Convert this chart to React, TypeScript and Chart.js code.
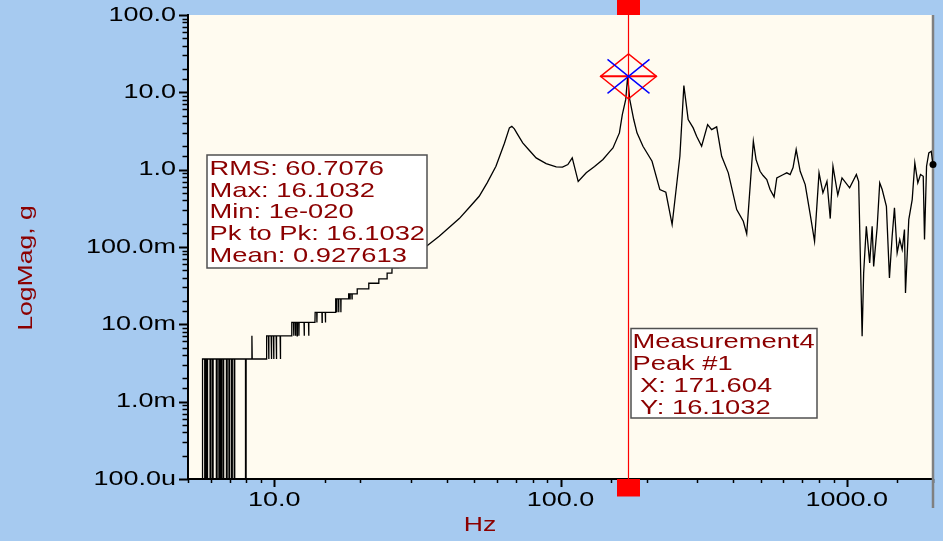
import { useEffect, useRef } from 'react';
import { Chart, registerables } from 'chart.js';

Chart.register(...registerables);

// ---------------- data ----------------
// low-frequency quantised region (1e-20 = empty bin)
const lowFreqHz = [
  5.0, 5.6,
  5.62, 5.72, 5.74, 5.76, 5.81, 5.83, 5.85, 5.97, 5.99, 6.01,
  6.08, 6.10, 6.12, 6.28, 6.30, 6.32, 6.41, 6.43, 6.45,
  6.51, 6.53, 6.55, 6.63, 6.65, 6.67, 6.81, 6.83, 6.85,
  6.95, 6.97, 6.99, 7.10, 7.12, 7.14, 7.25, 7.27, 7.29,
  7.94, 7.96, 7.98, 8.34, 8.36, 8.38,
  9.39, 9.41, 9.55, 9.57, 9.59, 9.76, 9.78, 9.80,
  9.94, 9.96, 9.98, 10.16, 10.18, 10.20, 10.49, 10.51, 10.53,
  11.50, 11.52, 11.68, 11.70, 11.72, 11.85, 11.87, 11.89,
  12.01, 12.03, 12.05, 12.18, 12.20, 12.22, 12.71, 12.73, 12.75,
  13.18, 13.20, 13.22, 13.88, 13.90, 14.08, 14.10, 14.12,
  14.68, 14.70, 14.72, 15.08, 15.10, 15.12,
  16.38, 16.40, 16.53, 16.55, 16.57, 16.78, 16.80, 16.82,
  17.08, 17.10, 17.12, 18.18, 18.20, 18.38, 18.40, 18.42,
  18.68, 18.70, 18.72, 19.48, 19.50, 21.38, 21.40,
  23.18, 23.20, 24.78, 24.80, 25.78, 25.80, 27.3,
];
const lowMagG = [
  1e-20, 1e-20,
  0.00356, 0.00356, 1e-20, 0.00356, 0.00356, 1e-20, 0.00356, 0.00356, 1e-20, 0.00356,
  0.00356, 1e-20, 0.00356, 0.00356, 1e-20, 0.00356, 0.00356, 1e-20, 0.00356,
  0.00356, 1e-20, 0.00356, 0.00356, 1e-20, 0.00356, 0.00356, 1e-20, 0.00356,
  0.00356, 1e-20, 0.00356, 0.00356, 1e-20, 0.00356, 0.00356, 1e-20, 0.00356,
  0.00356, 1e-20, 0.00356, 0.00356, 0.0071, 0.00356,
  0.00356, 0.0071, 0.0071, 0.00356, 0.0071, 0.0071, 0.00356, 0.0071,
  0.0071, 0.00356, 0.0071, 0.0071, 0.00356, 0.0071, 0.0071, 0.00356, 0.0071,
  0.0071, 0.0106, 0.0106, 0.0071, 0.0106, 0.0106, 0.0071, 0.0106,
  0.0106, 0.0071, 0.0106, 0.0106, 0.0071, 0.0106, 0.0106, 0.0071, 0.0106,
  0.0106, 0.0071, 0.0106, 0.0106, 0.0143, 0.0143, 0.0106, 0.0143,
  0.0143, 0.0106, 0.0143, 0.0143, 0.0106, 0.0143,
  0.0143, 0.0213, 0.0213, 0.0143, 0.0213, 0.0213, 0.0143, 0.0213,
  0.0213, 0.0143, 0.0213, 0.0213, 0.0247, 0.0247, 0.0213, 0.0247,
  0.0247, 0.0213, 0.0247, 0.0247, 0.0287, 0.0287, 0.034,
  0.034, 0.0386, 0.0386, 0.046, 0.046, 0.054, 0.054,
];

// resonance region
const midFreqHz = [
  30.6, 34.2, 37.7, 44.3, 48.0, 52.0, 55.5, 59.5, 63.7, 66.3, 67.6, 69.0, 70.9, 73.8,
  77.9, 82.2, 89.1, 96.6, 101.6, 106.1, 109.9, 115.3, 123.0, 131.5, 140.7, 148.5,
  152.5, 160.6, 164.4,
  169.0, 171.604, 174.5, 180.2, 185.0, 194.1, 208.8, 222.3, 233.3, 245.4,
  261.2, 269.7, 279.2, 290.7, 298.8, 311.1, 326.5, 337.2, 351.1, 365.5,
  385.5, 412.5, 435.0, 447.1,
];
const midMagG = [
  0.075, 0.104, 0.1375, 0.233, 0.324, 0.453, 0.681, 1.107, 2.2, 3.47, 3.64, 3.37, 2.84, 2.22,
  1.77, 1.42, 1.2, 1.086, 1.08, 1.164, 1.42, 0.702, 0.91, 1.096, 1.352, 1.71,
  1.91, 2.99, 5.16,
  8.1, 16.1032, 8.1, 4.45, 2.99, 2.01, 1.285, 0.553, 0.51, 0.195,
  1.49, 12.2, 4.45, 3.47, 2.7, 2.01, 3.83, 3.3, 3.58, 1.49,
  0.91, 0.305, 0.215, 0.1477,
];

// high-frequency region
const highFreqHz = [
  471.6, 482, 497.7, 510, 525.4, 539.5, 557.2, 569.5, 600.6, 617, 634.0, 649,
  665.5, 687.3, 715.6, 745.2,
  771.5, 799.8, 825.2, 852.4, 875.3, 894.6, 930, 962.1, 1023, 1080, 1100,
  1131, 1145, 1170, 1202, 1226, 1241, 1276, 1303, 1329, 1375, 1409, 1440,
  1467, 1499, 1531, 1561, 1590, 1603, 1646, 1692, 1728, 1770, 1809, 1849,
  1868, 1899, 1934, 1972, 2000,
];
const highMagG = [
  2.33, 1.35, 0.953, 0.839, 0.745, 0.553, 0.445, 0.783, 0.865, 0.91, 0.865, 1.065,
  1.82, 0.953, 0.641, 0.262,
  0.1186, 0.91, 0.501, 0.708, 0.233, 1.107, 0.469, 0.783, 0.582, 0.865, 0.702,
  0.007, 0.0462, 0.185, 0.0622, 0.185, 0.0562, 0.177, 0.675, 0.553, 0.336, 0.0398, 0.1375,
  0.321, 0.0839, 0.1247, 0.0925, 0.168, 0.0255, 0.226, 0.41, 1.225, 0.675, 0.865, 0.822,
  0.1247, 1.107, 1.65, 1.73, 1.164,
];

const xTickValues = [10, 100, 1000];
const xTickLabels = ['10.0', '100.0', '1000.0'];
const yTickValues = [1e-4, 1e-3, 1e-2, 1e-1, 1, 10, 100];
const yTickLabels = ['100.0u', '1.0m', '10.0m', '100.0m', '1.0', '10.0', '100.0'];
const xRange = [5, 2000];
const yRange = [1e-4, 100];
const xTitle = 'Hz';
const yTitle = 'LogMag, g';
const statsLines = ['RMS: 60.7076', 'Max: 16.1032', 'Min: 1e-020', 'Pk to Pk: 16.1032', 'Mean: 0.927613'];
const peakLines = ['Measurement4', 'Peak #1', ' X: 171.604', ' Y: 16.1032'];
const peakHz = 171.604;
const peakG = 16.1032;

// ---------------- styles ----------------
const BLUE = '#a6caf0';
const CREAM = '#fffbf0';
const DARKRED = '#8b0000';
const FONT = '"Liberation Sans", Arial, sans-serif';
const TICK_STRETCH = 1.35;
const BOX_STRETCH = 1.3;
const TITLE_STRETCH = 1.33;

const freqHz = [...lowFreqHz, ...midFreqHz, ...highFreqHz];
const magG = [...lowMagG, ...midMagG, ...highMagG];

function labelFor(v: number, vals: number[], labels: string[]) {
  const i = vals.findIndex((t) => Math.abs(Math.log10(t) - Math.log10(v)) < 1e-6);
  return i >= 0 ? labels[i] : '';
}
function isDecade(v: number) {
  const l = Math.log10(v);
  return Math.abs(l - Math.round(l)) < 1e-6;
}

const protoFillText = CanvasRenderingContext2D.prototype.fillText;
function wideText(ctx: CanvasRenderingContext2D, text: string, x: number, y: number, sx: number) {
  ctx.save();
  ctx.translate(x, y);
  ctx.scale(sx, 1);
  protoFillText.call(ctx, text, 0, 0);
  ctx.restore();
}

function drawBox(
  ctx: CanvasRenderingContext2D, x: number, y: number, w: number, h: number,
  lines: string[], tx: number, firstBase: number, lh: number,
) {
  ctx.fillStyle = '#ffffff';
  ctx.fillRect(x, y, w, h);
  ctx.strokeStyle = '#505050';
  ctx.lineWidth = 1.5;
  ctx.strokeRect(x, y, w, h);
  ctx.fillStyle = DARKRED;
  ctx.font = `21px ${FONT}`;
  ctx.textAlign = 'left';
  ctx.textBaseline = 'alphabetic';
  lines.forEach((l, i) => wideText(ctx, l, tx, firstBase + i * lh, BOX_STRETCH));
}

const decor = {
  id: 'decor',
  beforeDraw(chart: any) {
    const { ctx, chartArea: a } = chart;
    ctx.save();
    ctx.fillStyle = BLUE;
    ctx.fillRect(0, 0, chart.width, chart.height);
    ctx.fillStyle = CREAM;
    ctx.fillRect(a.left, a.top, a.right - a.left, a.bottom - a.top);
    ctx.restore();
    ctx.fillText = function (t: string, x: number, y: number) {
      wideText(this, t, x, y, TICK_STRETCH);
    };
  },
  beforeDatasetsDraw(chart: any) {
    const { ctx, chartArea: a } = chart;
    const xs = chart.scales.x;
    const ys = chart.scales.y;
    ctx.save();
    ctx.strokeStyle = '#000';
    for (const t of ys.ticks) {
      const py = Math.round(ys.getPixelForValue(t.value)) + 0.5;
      const major = isDecade(t.value);
      ctx.lineWidth = major ? 2 : 1.5;
      const len = major ? 9 : 5.5;
      ctx.beginPath();
      ctx.moveTo(a.left - len, py);
      ctx.lineTo(a.left, py);
      ctx.stroke();
    }
    for (const t of xs.ticks) {
      const px = Math.round(xs.getPixelForValue(t.value)) + 0.5;
      const major = isDecade(t.value);
      ctx.lineWidth = major ? 2 : 1.5;
      const len = major ? 8 : 4;
      ctx.beginPath();
      ctx.moveTo(px, a.bottom);
      ctx.lineTo(px, a.bottom + len);
      ctx.stroke();
    }
    ctx.strokeStyle = '#808080';
    ctx.lineWidth = 2.5;
    ctx.beginPath();
    ctx.moveTo(a.right, a.top);
    ctx.lineTo(a.right, a.bottom + 29);
    ctx.stroke();
    ctx.restore();
  },
  afterDraw(chart: any) {
    const ctx = chart.ctx;
    delete ctx.fillText;
    const a = chart.chartArea;
    const xs = chart.scales.x;
    const ys = chart.scales.y;
    ctx.save();

    // cursor
    const cx = Math.round(xs.getPixelForValue(peakHz)) + 0.5;
    const cy = ys.getPixelForValue(peakG);
    ctx.strokeStyle = '#ff0000';
    ctx.lineWidth = 1.2;
    ctx.beginPath();
    ctx.moveTo(cx, a.top);
    ctx.lineTo(cx, a.bottom);
    ctx.stroke();
    ctx.fillStyle = '#ff0000';
    ctx.fillRect(cx - 11.5, 0, 23, a.top);
    ctx.fillRect(cx - 11.5, a.bottom, 23, 17.5);

    // peak marker
    ctx.lineWidth = 1.4;
    ctx.beginPath();
    ctx.moveTo(cx - 28, cy);
    ctx.lineTo(cx, cy - 22.5);
    ctx.lineTo(cx + 28, cy);
    ctx.lineTo(cx, cy + 22.5);
    ctx.closePath();
    ctx.stroke();
    ctx.lineWidth = 2;
    ctx.beginPath();
    ctx.moveTo(cx - 28, cy);
    ctx.lineTo(cx + 28, cy);
    ctx.stroke();
    ctx.strokeStyle = '#0000ff';
    ctx.lineWidth = 1.4;
    ctx.beginPath();
    ctx.moveTo(cx - 21, cy - 17);
    ctx.lineTo(cx + 21, cy + 17);
    ctx.moveTo(cx - 21, cy + 17);
    ctx.lineTo(cx + 21, cy - 17);
    ctx.stroke();

    // info boxes
    drawBox(ctx, 207, 155, 220, 113, statsLines, 209.5, 175, 21.7);
    drawBox(ctx, 631, 328.5, 186, 89.5, peakLines, 632.5, 347.7, 22.2);

    // axis titles
    ctx.fillStyle = DARKRED;
    ctx.font = `20px ${FONT}`;
    ctx.textAlign = 'center';
    ctx.textBaseline = 'alphabetic';
    wideText(ctx, xTitle, 480, 530.5, TITLE_STRETCH);
    ctx.save();
    ctx.translate(31.5, 268);
    ctx.rotate(-Math.PI / 2);
    wideText(ctx, yTitle, 0, 0, TITLE_STRETCH);
    ctx.restore();

    ctx.restore();
  },
};

export default function App() {
  const ref = useRef<HTMLCanvasElement>(null);
  useEffect(() => {
    const canvas = ref.current;
    if (!canvas) return;
    const points = freqHz.map((f, i) => ({ x: f, y: magG[i] }));
    const last = points.length - 1;
    const chart = new Chart(canvas, {
      type: 'line',
      data: {
        datasets: [
          {
            data: points,
            borderColor: '#000000',
            borderWidth: 1.3,
            pointRadius: (c: any) => (c.dataIndex === last ? 3.5 : 0),
            pointBackgroundColor: '#000000',
            pointBorderWidth: 0,
            tension: 0,
            clip: { left: 0, top: 0, right: 6, bottom: 0 } as any,
          },
        ],
      },
      options: {
        responsive: false,
        devicePixelRatio: 1,
        animation: false,
        events: [],
        layout: { padding: { top: 15, right: 10, left: 0, bottom: 0 } },
        plugins: { legend: { display: false }, tooltip: { enabled: false } },
        scales: {
          x: {
            type: 'logarithmic',
            min: xRange[0],
            max: xRange[1],
            afterFit: (s: any) => {
              s.height = 62;
              s.paddingLeft = 0;
              s.paddingRight = 0;
            },
            grid: { display: true, drawOnChartArea: false, drawTicks: false },
            border: { display: true, color: '#000', width: 2 },
            ticks: {
              autoSkip: false,
              maxRotation: 0,
              minRotation: 0,
              padding: 9,
              color: '#000',
              font: { family: FONT, size: 20 },
              callback: (v: any) => labelFor(Number(v), xTickValues, xTickLabels),
            },
          },
          y: {
            type: 'logarithmic',
            min: yRange[0],
            max: yRange[1],
            afterFit: (s: any) => {
              s.width = 188;
              s.paddingTop = 0;
              s.paddingBottom = 0;
            },
            grid: { display: true, drawOnChartArea: false, drawTicks: false },
            border: { display: true, color: '#000', width: 2 },
            ticks: {
              autoSkip: false,
              padding: 12,
              color: '#000',
              font: { family: FONT, size: 20 },
              callback: (v: any) => labelFor(Number(v), yTickValues, yTickLabels),
            },
          },
        },
      } as any,
      plugins: [decor],
    });
    return () => chart.destroy();
  }, []);
  return (
    <div style={{ position: 'fixed', left: 0, top: 0, width: 943, height: 541, background: BLUE }}>
      <canvas ref={ref} width={943} height={541} style={{ display: 'block', width: 943, height: 541 }} />
    </div>
  );
}
